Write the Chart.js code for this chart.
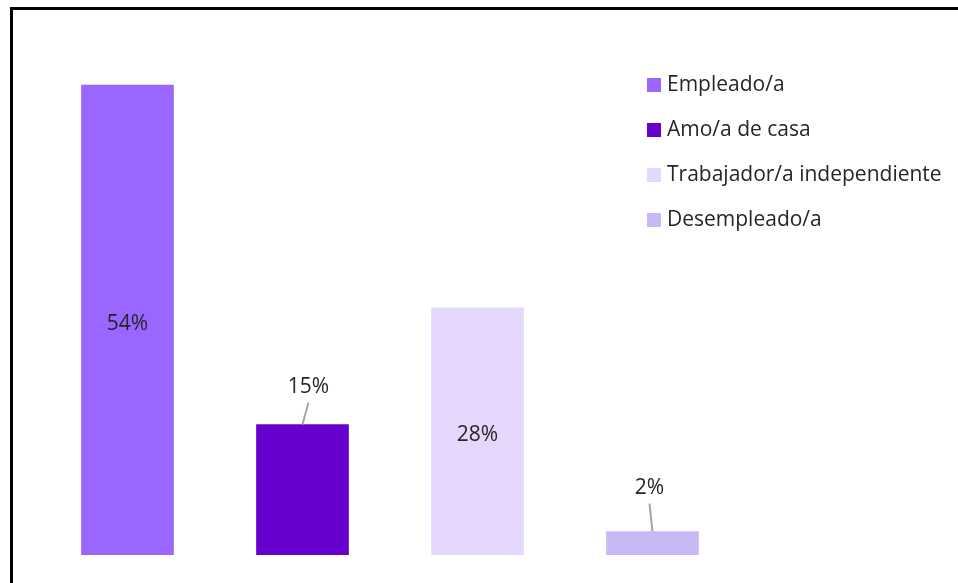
<!DOCTYPE html>
<html>
<head>
<meta charset="utf-8">
<script src="https://cdn.jsdelivr.net/npm/chart.js@4/dist/chart.umd.min.js"></script>
<style>
  html, body { margin: 0; padding: 0; background: #ffffff; overflow: hidden; }
  #frame { position: absolute; left: 10px; top: 7px; width: 1000px; height: 1000px;
           border-left: 3px solid #000; border-top: 3px solid #000; }
  #wrap { position: absolute; left: 0; top: 0; width: 958px; height: 583px; }
</style>
</head>
<body>
<div id="frame"></div>
<div id="wrap"><canvas id="c" width="958" height="583"></canvas></div>
<script>
const categories = ['Empleado/a', 'Amo/a de casa', 'Trabajador/a independiente', 'Desempleado/a'];
const values = [54, 15, 28.4, 2.7];
const valueLabels = ['54%', '15%', '28%', '2%'];
const barColors = ['#9966FF', '#6600CC', '#E5D7FB', '#C8B8F5'];
const labelInside = [true, false, true, false];

const FONT = '"Open Sans", Lato, sans-serif';
const TEXT = '#262626';

const dataLabelPlugin = {
  id: 'dataLabelPlugin',
  afterDatasetsDraw(chart) {
    const ctx = chart.ctx;
    const meta = chart.getDatasetMeta(0);
    const dxOut = [0, 6, 0, -3];
    const dyOut = [0, 37, 0, 43];
    const lineStart = [0, 22, 0, 28];
    ctx.save();
    ctx.font = '21px ' + FONT;
    ctx.fillStyle = TEXT;
    ctx.textAlign = 'center';
    ctx.textBaseline = 'middle';
    meta.data.forEach((el, i) => {
      if (labelInside[i]) {
        ctx.fillText(valueLabels[i], el.x, (el.y + el.base) / 2 + 4);
      } else {
        const lx = el.x + dxOut[i];
        ctx.fillText(valueLabels[i], lx, el.y - dyOut[i]);
        ctx.strokeStyle = '#A6A6A6';
        ctx.lineWidth = 2;
        ctx.beginPath();
        ctx.moveTo(lx, el.y - lineStart[i]);
        ctx.lineTo(el.x, el.y);
        ctx.stroke();
      }
    });
    ctx.restore();
  }
};

const legendPlugin = {
  id: 'customLegend',
  afterDraw(chart) {
    const ctx = chart.ctx;
    const labels = chart.data.labels;
    const cols = chart.data.datasets[0].backgroundColor;
    ctx.save();
    ctx.font = '21px ' + FONT;
    ctx.textBaseline = 'middle';
    ctx.textAlign = 'left';
    labels.forEach((lab, i) => {
      const cy = 85 + i * 45;
      ctx.fillStyle = cols[i];
      ctx.fillRect(647, cy - 7, 14, 14);
      ctx.fillStyle = TEXT;
      ctx.fillText(lab, 667, cy);
    });
    ctx.restore();
  }
};

new Chart(document.getElementById('c'), {
  type: 'bar',
  data: {
    labels: categories,
    datasets: [{
      data: values,
      backgroundColor: barColors,
      borderWidth: 0,
      barThickness: 92
    }]
  },
  options: {
    responsive: false,
    animation: false,
    layout: { padding: { left: 40, right: 218, top: 33, bottom: 28 } },
    scales: {
      x: { display: false, grid: { display: false } },
      y: { display: false, min: 0, max: 60, grid: { display: false } }
    },
    plugins: {
      legend: { display: false },
      tooltip: { enabled: false }
    }
  },
  plugins: [dataLabelPlugin, legendPlugin]
});
</script>
</body>
</html>
